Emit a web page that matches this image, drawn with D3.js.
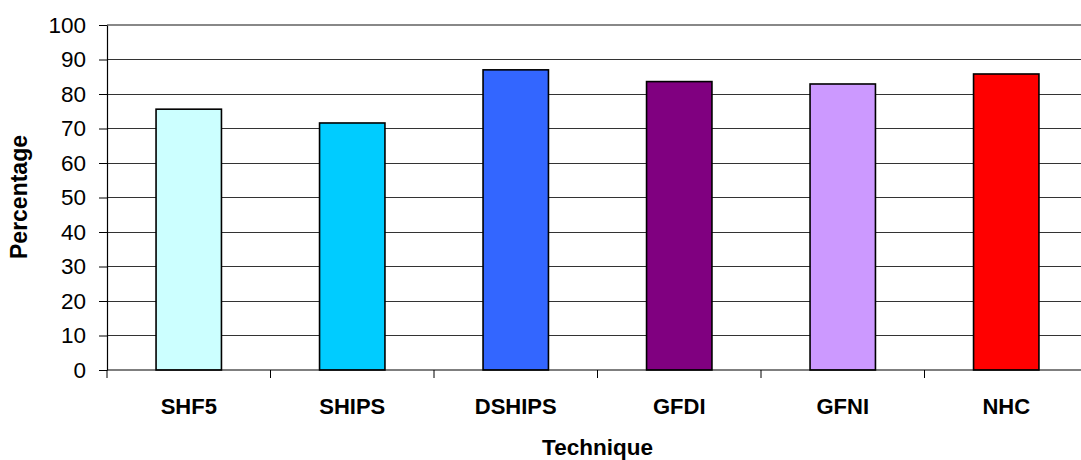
<!DOCTYPE html>
<html>
<head>
<meta charset="utf-8">
<script src="https://cdn.jsdelivr.net/npm/d3@7"></script>
<style>
  html, body { margin: 0; padding: 0; background: #fff; overflow: hidden; }
  svg { display: block; font-family: "Liberation Sans", Arial, sans-serif; }
</style>
</head>
<body>
<svg id="chart" width="1081" height="460"></svg>
<script>
const techniques = ["SHF5", "SHIPS", "DSHIPS", "GFDI", "GFNI", "NHC"];
const percentages = [75.6, 71.6, 87.0, 83.6, 82.9, 85.8];
const barColors = ["#CCFFFF", "#00CCFF", "#3366FF", "#800080", "#CC99FF", "#FF0000"];
const yTicks = [0, 10, 20, 30, 40, 50, 60, 70, 80, 90, 100];

const svg = d3.select("#chart");
const plot = { left: 107, right: 1088, top: 25, bottom: 370 };

const x = d3.scaleBand().domain(techniques).range([plot.left, plot.right]).paddingInner(0.6).paddingOuter(0.3);
const xEdges = d3.scaleLinear().domain([0, techniques.length]).range([plot.left, plot.right]);
const y = d3.scaleLinear().domain([0, 100]).range([plot.bottom, plot.top]);

// horizontal gridlines
svg.append("g")
  .selectAll("line")
  .data(yTicks.filter(d => d > 0 && d < 100))
  .join("line")
  .attr("x1", plot.left).attr("x2", plot.right)
  .attr("y1", d => y(d)).attr("y2", d => y(d))
  .attr("stroke", "#333").attr("stroke-width", 1)
  .attr("shape-rendering", "crispEdges");

// plot area top border
svg.append("line")
  .attr("x1", plot.left).attr("x2", plot.right)
  .attr("y1", y(100)).attr("y2", y(100))
  .attr("stroke", "#888").attr("stroke-width", 2);

// bars
svg.append("g")
  .selectAll("rect")
  .data(techniques)
  .join("rect")
  .attr("x", d => x(d))
  .attr("width", x.bandwidth())
  .attr("y", (d, i) => y(percentages[i]))
  .attr("height", (d, i) => y(0) - y(percentages[i]))
  .attr("fill", (d, i) => barColors[i])
  .attr("stroke", "#000").attr("stroke-width", 1.6);

// y axis
const yAxis = svg.append("g")
  .attr("transform", `translate(${plot.left},0)`)
  .call(d3.axisLeft(y).tickValues(yTicks).tickSize(8).tickPadding(13).tickSizeOuter(0));
yAxis.select(".domain").attr("stroke", "#000").attr("stroke-width", 1.2);
yAxis.selectAll(".tick line").attr("stroke", "#000");
yAxis.selectAll(".tick text")
  .attr("font-size", "22.5px").attr("fill", "#000")
  .attr("font-family", "Liberation Sans, Arial, sans-serif");

// x axis with tick marks at category boundaries
svg.append("line")
  .attr("x1", plot.left).attr("x2", plot.right)
  .attr("y1", plot.bottom).attr("y2", plot.bottom)
  .attr("stroke", "#000").attr("stroke-width", 1.2);
svg.append("g")
  .selectAll("line")
  .data(d3.range(techniques.length + 1))
  .join("line")
  .attr("x1", d => xEdges(d)).attr("x2", d => xEdges(d))
  .attr("y1", plot.bottom).attr("y2", plot.bottom + 8)
  .attr("stroke", "#000");

svg.append("g")
  .selectAll("text")
  .data(techniques)
  .join("text")
  .attr("x", d => x(d) + x.bandwidth() / 2)
  .attr("y", 414)
  .attr("text-anchor", "middle")
  .attr("font-size", "22px").attr("font-weight", "bold")
  .text(d => d);

// axis titles
svg.append("text")
  .attr("x", (plot.left + plot.right) / 2).attr("y", 455)
  .attr("text-anchor", "middle")
  .attr("font-size", "22.5px").attr("font-weight", "bold")
  .text("Technique");

svg.append("text")
  .attr("transform", "translate(27,197) rotate(-90)")
  .attr("text-anchor", "middle")
  .attr("font-size", "23px").attr("font-weight", "bold")
  .text("Percentage");
</script>
</body>
</html>
